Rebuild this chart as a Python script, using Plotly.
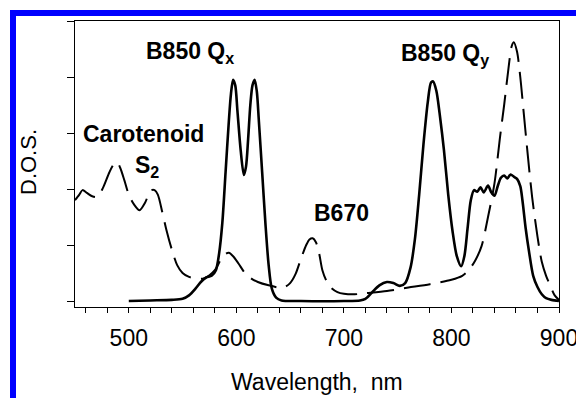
import plotly.graph_objects as go

# ---- data ----
solid_nm = [500, 520, 540, 550, 556, 562, 567, 572, 577, 581, 584, 587, 590, 593, 595, 597, 599, 601,
            604, 607, 609, 611, 613, 615, 617, 619, 621, 624, 627, 630, 633, 637, 642, 660, 700, 715,
            720, 726, 733, 740, 746, 752, 757, 762, 766, 770, 774, 778, 781, 783, 786, 789, 793, 797,
            801, 805, 809, 812, 815, 818, 821, 824, 827, 830, 834, 837, 840, 843, 846, 849, 852, 855,
            858, 861, 864, 866, 869, 872, 876, 880, 884, 888, 893, 900]
solid_dos = [0.00, 0.01, 0.02, 0.04, 0.10, 0.22, 0.34, 0.42, 0.45, 0.55, 0.85, 1.40, 2.30, 3.20, 3.70,
             3.95, 3.85, 3.40, 2.70, 2.25, 2.40, 2.90, 3.50, 3.85, 3.95, 3.75, 3.20, 2.30, 1.40, 0.65,
             0.22, 0.06, 0.01, 0.00, 0.00, 0.01, 0.04, 0.15, 0.28, 0.34, 0.32, 0.27, 0.32, 0.60, 1.10,
             1.90, 2.80, 3.55, 3.90, 3.92, 3.75, 3.35, 2.70, 1.90, 1.25, 0.80, 0.62, 0.80, 1.30, 1.80,
             1.98, 1.95, 2.03, 1.94, 2.06, 1.94, 1.88, 2.05, 2.20, 2.24, 2.19, 2.26, 2.22, 2.18, 2.05,
             1.80, 1.30, 0.90, 0.45, 0.25, 0.12, 0.05, 0.02, 0.00]

dashed_nm = [450, 454, 457, 461, 466, 471, 476, 482, 486, 489, 492, 496, 500, 505, 510, 515, 519, 521,
             524, 527, 531, 535, 540, 545, 550, 556, 563, 569, 575, 580, 586, 590, 593, 597, 602, 608,
             614, 620, 630, 640, 645, 650, 655, 660, 665, 668, 671, 674, 677, 680, 684, 688, 694, 700,
             710, 720, 740, 760, 780, 800, 810, 816, 822, 828, 834, 840, 845, 849, 853, 856, 858, 861,
             864, 867, 871, 875, 880, 884, 888, 892, 896, 900]
dashed_dos = [1.80, 1.90, 1.98, 1.93, 1.87, 1.86, 2.02, 2.30, 2.44, 2.48, 2.38, 2.15, 1.90, 1.72, 1.62,
              1.75, 1.93, 1.98, 1.98, 1.90, 1.60, 1.27, 0.92, 0.64, 0.50, 0.43, 0.40, 0.40, 0.46, 0.55,
              0.75, 0.84, 0.86, 0.80, 0.67, 0.50, 0.40, 0.34, 0.28, 0.24, 0.25, 0.32, 0.48, 0.75, 1.00,
              1.10, 1.12, 1.05, 0.85, 0.55, 0.35, 0.24, 0.16, 0.13, 0.12, 0.14, 0.18, 0.24, 0.30, 0.38,
              0.45, 0.55, 0.72, 0.98, 1.50, 2.10, 2.90, 3.50, 4.15, 4.55, 4.62, 4.45, 4.00, 3.40, 2.60,
              1.86, 1.15, 0.70, 0.45, 0.27, 0.10, 0.02]

x_ticks = [500, 600, 700, 800, 900]
y_ticks = [0, 1, 2, 3, 4, 5]

FONT = "Arial, Liberation Sans, sans-serif"

fig = go.Figure()
fig.add_trace(go.Scatter(x=dashed_nm, y=dashed_dos, mode="lines",
                         line=dict(color="black", width=2, dash="27px,10px", shape="spline", smoothing=0.8),
                         showlegend=False, hoverinfo="skip"))
fig.add_trace(go.Scatter(x=solid_nm, y=solid_dos, mode="lines",
                         line=dict(color="black", width=2.6, shape="spline", smoothing=0.8),
                         showlegend=False, hoverinfo="skip"))

fig.update_layout(
    template="none",
    width=576, height=398,
    margin=dict(l=75, r=17, t=21, b=91, pad=0),
    paper_bgcolor="white", plot_bgcolor="white",
    font=dict(family=FONT, color="black", size=22),
    xaxis=dict(range=[450, 900], tickvals=x_ticks, ticks="outside", ticklen=5, tickwidth=1,
               tickcolor="black", showline=True, linecolor="black", linewidth=1, mirror=True,
               showgrid=False, zeroline=False, tickfont=dict(size=23, family=FONT),
               minor=dict(dtick=20, tick0=0, ticks="outside", ticklen=5, tickwidth=1, tickcolor="black",
                          showgrid=False),
               ticklabelstandoff=5, ticklabeloverflow="allow", automargin=False),
    yaxis=dict(range=[-0.107, 5.0], tickvals=y_ticks, ticks="outside", ticklen=7, tickwidth=1,
               tickcolor="black", showticklabels=False, showline=True, linecolor="black", linewidth=1,
               mirror=True, showgrid=False, zeroline=False, automargin=False),
)

ann_font = dict(family=FONT, size=23, color="black")
fig.add_annotation(x=514.1, y=2.98, xref="x", yref="y", text="<b>Carotenoid</b>", showarrow=False,
                   xanchor="center", yanchor="middle", font=ann_font)
fig.add_annotation(x=503.9, y=2.40, xref="x", yref="y", text="<b>S<sub>2</sub></b>", showarrow=False,
                   xanchor="left", yanchor="middle", font=ann_font)
fig.add_annotation(x=514.5, y=4.43, xref="x", yref="y", text="<b>B850 Q<sub>x</sub></b>", showarrow=False,
                   xanchor="left", yanchor="middle", font=ann_font)
fig.add_annotation(x=751.3, y=4.40, xref="x", yref="y", text="<b>B850 Q<sub>y</sub></b>", showarrow=False,
                   xanchor="left", yanchor="middle", font=ann_font)
fig.add_annotation(x=697.5, y=1.57, xref="x", yref="y", text="<b>B670</b>", showarrow=False,
                   xanchor="center", yanchor="middle", font=ann_font)

# axis titles
fig.add_annotation(x=0, y=(307 - 162) / 286, xref="paper", yref="paper", xshift=-47,
                   text="D.O.S.", textangle=-90, showarrow=False, xanchor="center", yanchor="middle",
                   font=dict(family=FONT, size=22, color="black"))
fig.add_annotation(x=0.5, y=0, xref="paper", yref="paper", yshift=-75,
                   text="Wavelength,\u00a0 nm", showarrow=False, xanchor="center", yanchor="middle",
                   font=dict(family=FONT, size=23, color="black"))

# blue frame (top and left)
def px_x(p):
    return (p - 75) / 484

def px_y(p):
    return (307 - p) / 286

fig.add_shape(type="rect", xref="paper", yref="paper", x0=px_x(10), x1=px_x(16), y0=px_y(398), y1=px_y(10),
              fillcolor="#0000FF", line=dict(width=0), layer="above")
fig.add_shape(type="rect", xref="paper", yref="paper", x0=px_x(10), x1=px_x(576), y0=px_y(16), y1=px_y(10),
              fillcolor="#0000FF", line=dict(width=0), layer="above")

fig.write_html("out.html")
